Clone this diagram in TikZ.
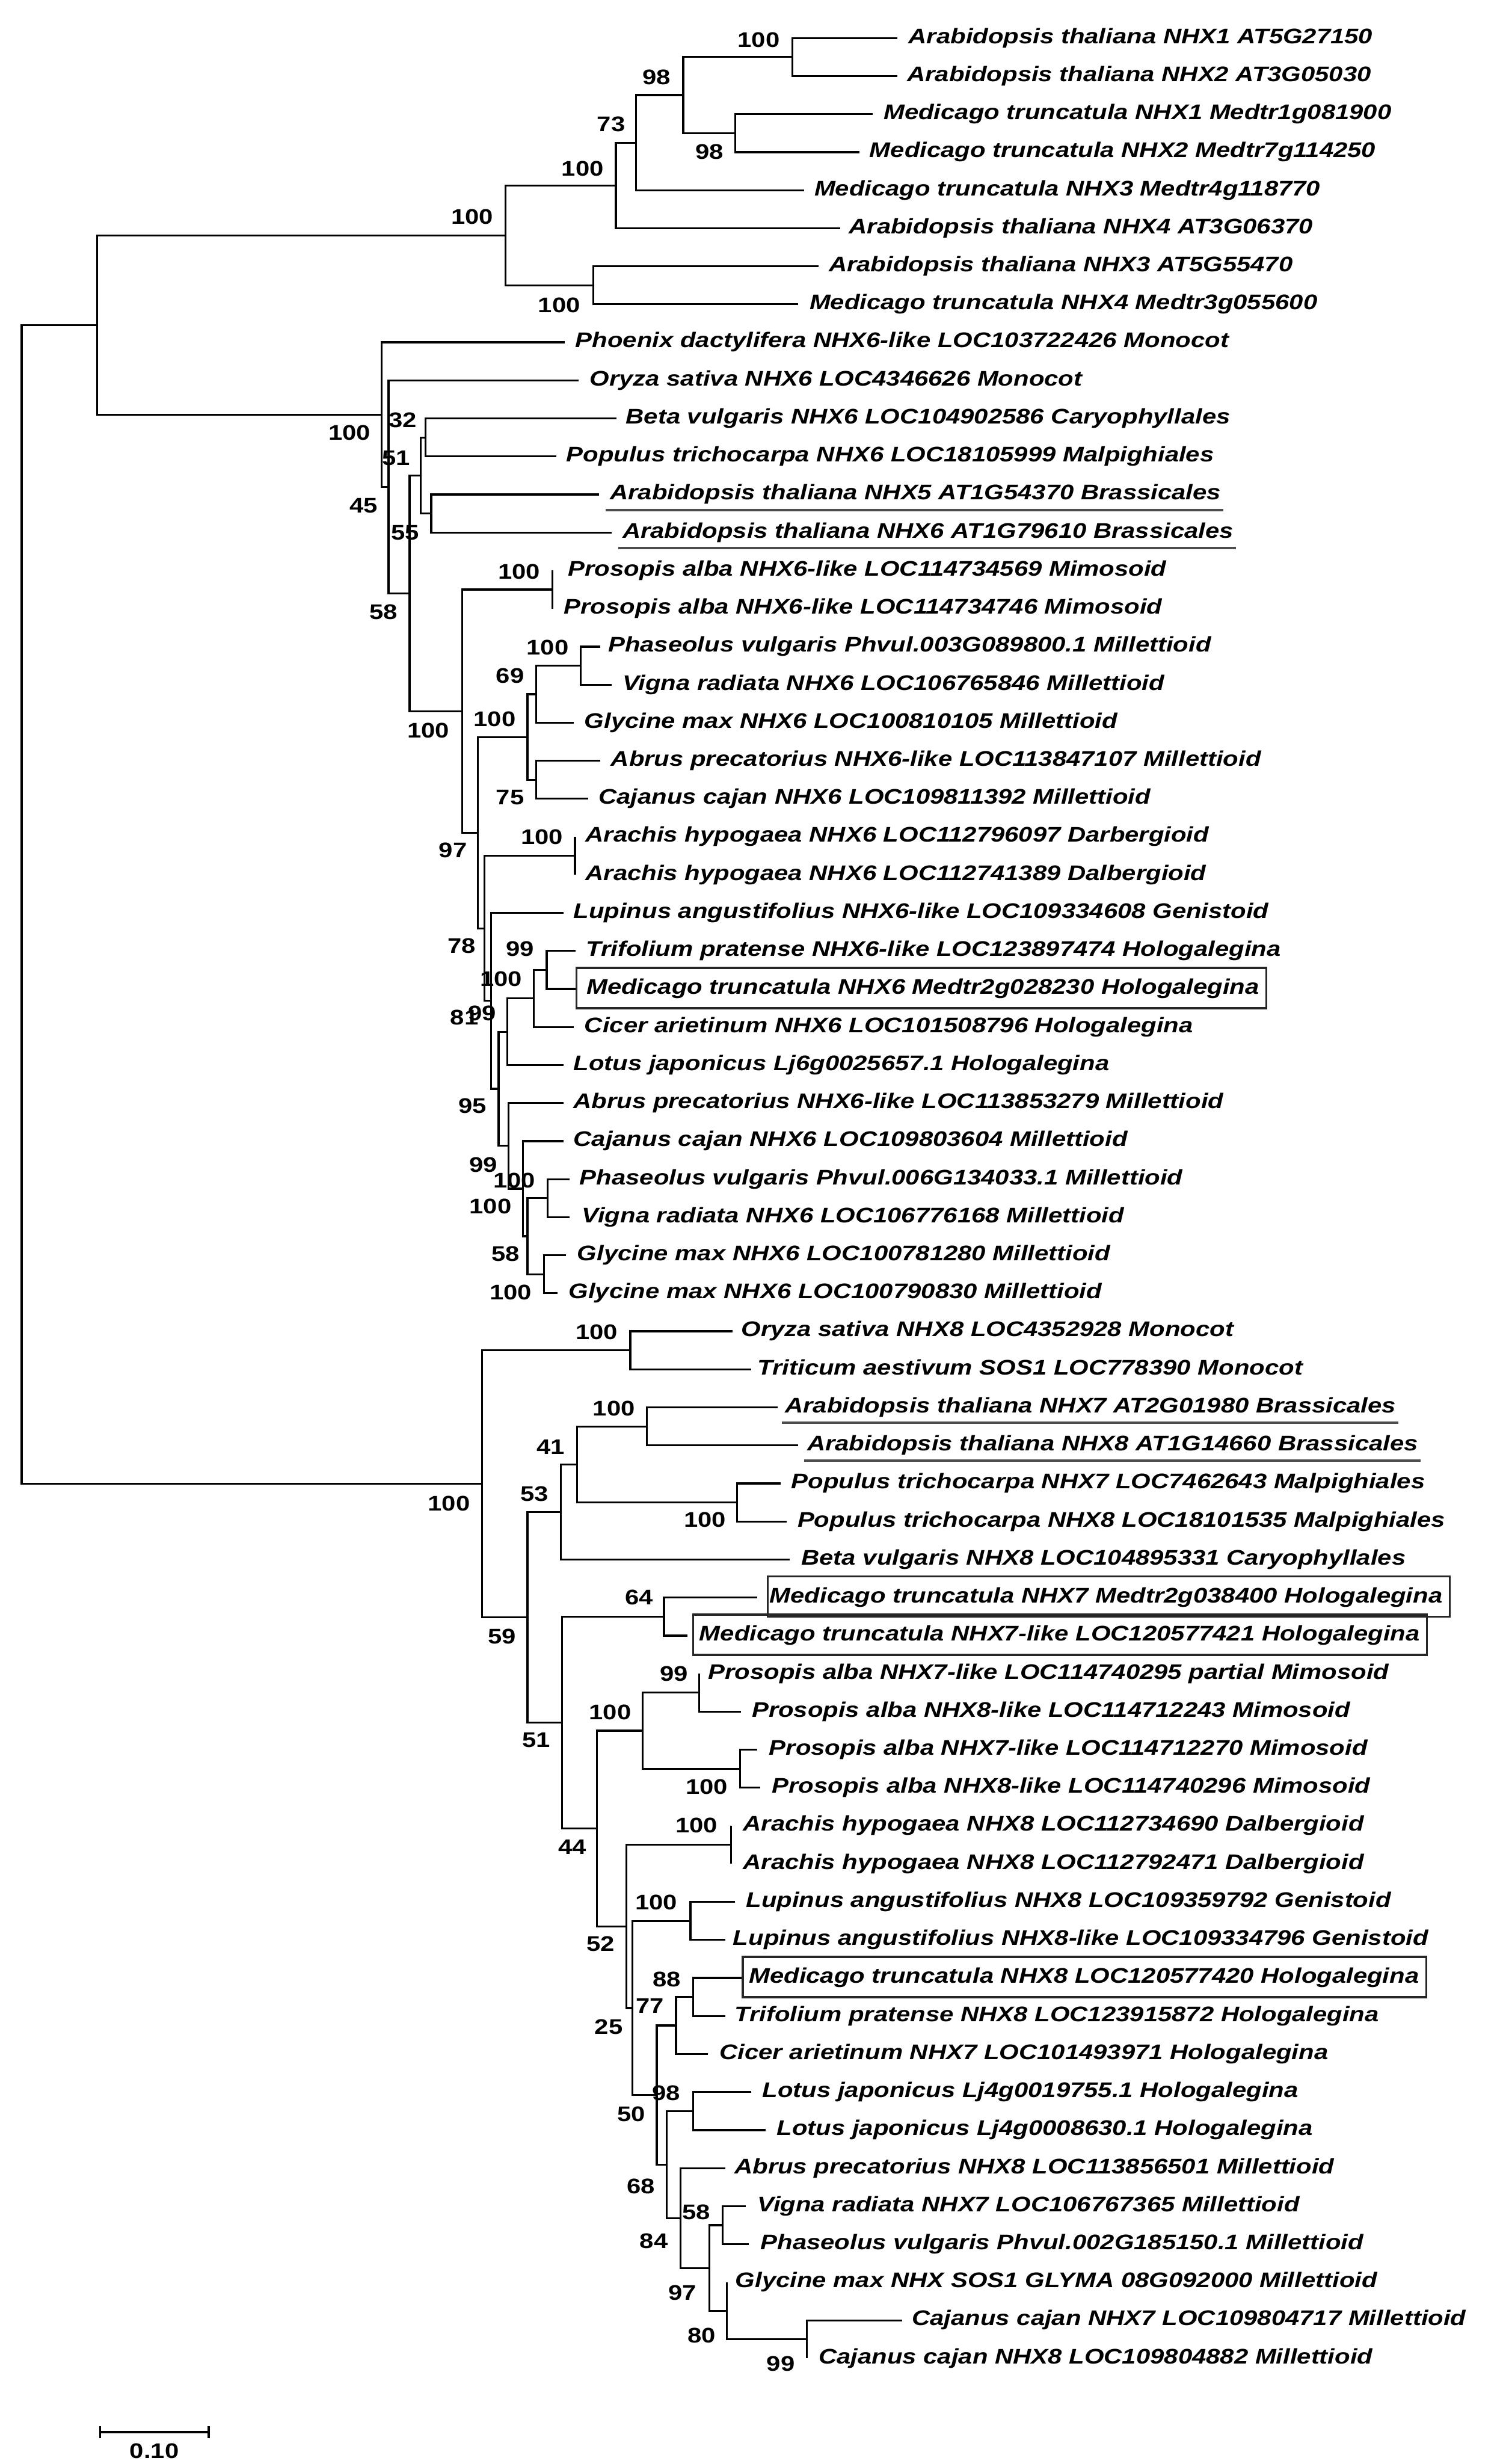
\documentclass[tikz,border=0pt]{standalone}
\usepackage{fontspec}
\setmainfont{Liberation Sans}[FakeStretch=1.19]
\usetikzlibrary{calc}
\tikzset{
  br/.style={line width=0.96pt},
  leaf/.style={font=\bfseries\itshape\fontsize{10.56}{12}\selectfont, inner sep=0pt, anchor=base west, text height=12.96pt, text depth=6.72pt},
  bs/.style={font=\bfseries\fontsize{10.56}{12}\selectfont, inner sep=0pt},
  boxl/.style={line width=1pt, draw=black!85},
  ul/.style={line width=1.2pt, draw=black!70},
}
\newcommand\mkleaf[4]{\coordinate (l#1) at (#2,#1); \node[leaf] (t#1) at (#3,{#1+0.14}) {#4};}
\begin{document}
\begin{tikzpicture}[x=0.24pt, y=-18.984pt]
\useasboundingbox (0,0) rectangle (3125,64.779);
\fill[white] (0,0) rectangle (3125,64.779);
% leaves
\mkleaf{1}{1866}{1889}{Arabidopsis thaliana NHX1 AT5G27150}
\mkleaf{2}{1866}{1886}{Arabidopsis thaliana NHX2 AT3G05030}
\mkleaf{3}{1815}{1837}{Medicago truncatula NHX1 Medtr1g081900}
\mkleaf{4}{1787}{1808}{Medicago truncatula NHX2 Medtr7g114250}
\mkleaf{5}{1672}{1693}{Medicago truncatula NHX3 Medtr4g118770}
\mkleaf{6}{1748}{1765}{Arabidopsis thaliana NHX4 AT3G06370}
\mkleaf{7}{1702}{1723}{Arabidopsis thaliana NHX3 AT5G55470}
\mkleaf{8}{1660}{1683}{Medicago truncatula NHX4 Medtr3g055600}
\mkleaf{9}{1175}{1196}{Phoenix dactylifera NHX6-like LOC103722426 Monocot}
\mkleaf{10}{1203}{1226}{Oryza sativa NHX6 LOC4346626 Monocot}
\mkleaf{11}{1282}{1301}{Beta vulgaris NHX6 LOC104902586 Caryophyllales}
\mkleaf{12}{1157}{1177}{Populus trichocarpa NHX6 LOC18105999 Malpighiales}
\mkleaf{13}{1246}{1268}{Arabidopsis thaliana NHX5 AT1G54370 Brassicales}
\mkleaf{14}{1272}{1294}{Arabidopsis thaliana NHX6 AT1G79610 Brassicales}
\mkleaf{15}{1149}{1181}{Prosopis alba NHX6-like LOC114734569 Mimosoid}
\mkleaf{16}{1149}{1172}{Prosopis alba NHX6-like LOC114734746 Mimosoid}
\mkleaf{17}{1248}{1264}{Phaseolus vulgaris Phvul.003G089800.1 Millettioid}
\mkleaf{18}{1272}{1294}{Vigna radiata NHX6 LOC106765846 Millettioid}
\mkleaf{19}{1194}{1215}{Glycine max NHX6 LOC100810105 Millettioid}
\mkleaf{20}{1248}{1270}{Abrus precatorius NHX6-like LOC113847107 Millettioid}
\mkleaf{21}{1224}{1244}{Cajanus cajan NHX6 LOC109811392 Millettioid}
\mkleaf{22}{1196}{1217}{Arachis hypogaea NHX6 LOC112796097 Darbergioid}
\mkleaf{23}{1196}{1217}{Arachis hypogaea NHX6 LOC112741389 Dalbergioid}
\mkleaf{24}{1172}{1192}{Lupinus angustifolius NHX6-like LOC109334608 Genistoid}
\mkleaf{25}{1197}{1218}{Trifolium pratense NHX6-like LOC123897474 Hologalegina}
\mkleaf{26}{1198}{1219}{Medicago truncatula NHX6 Medtr2g028230 Hologalegina}
\mkleaf{27}{1193}{1215}{Cicer arietinum NHX6 LOC101508796 Hologalegina}
\mkleaf{28}{1172}{1192}{Lotus japonicus Lj6g0025657.1 Hologalegina}
\mkleaf{29}{1172}{1192}{Abrus precatorius NHX6-like LOC113853279 Millettioid}
\mkleaf{30}{1172}{1192}{Cajanus cajan NHX6 LOC109803604 Millettioid}
\mkleaf{31}{1185}{1205}{Phaseolus vulgaris Phvul.006G134033.1 Millettioid}
\mkleaf{32}{1185}{1210}{Vigna radiata NHX6 LOC106776168 Millettioid}
\mkleaf{33}{1177}{1200}{Glycine max NHX6 LOC100781280 Millettioid}
\mkleaf{34}{1159}{1182}{Glycine max NHX6 LOC100790830 Millettioid}
\mkleaf{35}{1524}{1541}{Oryza sativa NHX8 LOC4352928 Monocot}
\mkleaf{36}{1563}{1575}{Triticum aestivum SOS1 LOC778390 Monocot}
\mkleaf{37}{1618}{1632}{Arabidopsis thaliana NHX7 AT2G01980 Brassicales}
\mkleaf{38}{1660}{1678}{Arabidopsis thaliana NHX8 AT1G14660 Brassicales}
\mkleaf{39}{1624}{1645}{Populus trichocarpa NHX7 LOC7462643 Malpighiales}
\mkleaf{40}{1636}{1658}{Populus trichocarpa NHX8 LOC18101535 Malpighiales}
\mkleaf{41}{1642}{1666}{Beta vulgaris NHX8 LOC104895331 Caryophyllales}
\mkleaf{42}{1575}{1600}{Medicago truncatula NHX7 Medtr2g038400 Hologalegina}
\mkleaf{43}{1430}{1454}{Medicago truncatula NHX7-like LOC120577421 Hologalegina}
\mkleaf{44}{1454}{1472}{Prosopis alba NHX7-like LOC114740295 partial Mimosoid}
\mkleaf{45}{1541}{1563}{Prosopis alba NHX8-like LOC114712243 Mimosoid}
\mkleaf{46}{1575}{1599}{Prosopis alba NHX7-like LOC114712270 Mimosoid}
\mkleaf{47}{1581}{1605}{Prosopis alba NHX8-like LOC114740296 Mimosoid}
\mkleaf{48}{1521}{1545}{Arachis hypogaea NHX8 LOC112734690 Dalbergioid}
\mkleaf{49}{1521}{1545}{Arachis hypogaea NHX8 LOC112792471 Dalbergioid}
\mkleaf{50}{1529}{1551}{Lupinus angustifolius NHX8 LOC109359792 Genistoid}
\mkleaf{51}{1509}{1524}{Lupinus angustifolius NHX8-like LOC109334796 Genistoid}
\mkleaf{52}{1545}{1557}{Medicago truncatula NHX8 LOC120577420 Hologalegina}
\mkleaf{53}{1509}{1527}{Trifolium pratense NHX8 LOC123915872 Hologalegina}
\mkleaf{54}{1472}{1496}{Cicer arietinum NHX7 LOC101493971 Hologalegina}
\mkleaf{55}{1563}{1585}{Lotus japonicus Lj4g0019755.1 Hologalegina}
\mkleaf{56}{1593}{1615}{Lotus japonicus Lj4g0008630.1 Hologalegina}
\mkleaf{57}{1509}{1527}{Abrus precatorius NHX8 LOC113856501 Millettioid}
\mkleaf{58}{1551}{1575}{Vigna radiata NHX7 LOC106767365 Millettioid}
\mkleaf{59}{1557}{1581}{Phaseolus vulgaris Phvul.002G185150.1 Millettioid}
\mkleaf{60}{1512}{1529}{Glycine max NHX SOS1 GLYMA 08G092000 Millettioid}
\mkleaf{61}{1876}{1896}{Cajanus cajan NHX7 LOC109804717 Millettioid}
\mkleaf{62}{1678}{1702}{Cajanus cajan NHX8 LOC109804882 Millettioid}
% internal nodes
\coordinate (G) at (1648,1.5);
\coordinate (H) at (1529,3.5);
\coordinate (F) at (1421,2.5);
\coordinate (E) at (1323,3.75);
\coordinate (D) at (1281,4.875);
\coordinate (C) at (1234,7.5);
\coordinate (Bn) at (1051,6.1875);
\coordinate (M) at (885,11.5);
\coordinate (N) at (897,13.5);
\coordinate (L) at (875,12.5);
\coordinate (P) at (1149,15.5);
\coordinate (T) at (1208,17.5);
\coordinate (S) at (1115,18.25);
\coordinate (U) at (1115,20.5);
\coordinate (R) at (1097,19.375);
\coordinate (W) at (1196,22.5);
\coordinate (Q1) at (1137,25.5);
\coordinate (Y4) at (1110,26.25);
\coordinate (Y3) at (1055,27.125);
\coordinate (Y8) at (1139,31.5);
\coordinate (Y9) at (1131,33.5);
\coordinate (Y7) at (1097,32.5);
\coordinate (Y6) at (1088,31.25);
\coordinate (Y5) at (1058,30.125);
\coordinate (Y2) at (1037,28.625);
\coordinate (Y1) at (1021,26.3125);
\coordinate (X) at (1008,24.40625);
\coordinate (V) at (994,21.890625);
\coordinate (O) at (961,18.6953);
\coordinate (K) at (852,15.5977);
\coordinate (J) at (808,12.7988);
\coordinate (I) at (794,10.8994);
\coordinate (A) at (202,8.5435);
\coordinate (AA) at (1311,35.5);
\coordinate (AE) at (1345,37.5);
\coordinate (AF) at (1533,39.5);
\coordinate (AD) at (1200,38.5);
\coordinate (AC) at (1166,39.75);
\coordinate (AH) at (1381,42.5);
\coordinate (AK) at (1454,44.5);
\coordinate (AL) at (1539,46.5);
\coordinate (AJ) at (1337,45.5);
\coordinate (AN) at (1521,48.5);
\coordinate (AP) at (1436,50.5);
\coordinate (AV) at (1442,52.5);
\coordinate (AT) at (1406,53.25);
\coordinate (AW) at (1442,55.5);
\coordinate (AZ) at (1503,58.5);
\coordinate (BB) at (1678,61.5);
\coordinate (BA) at (1512,60.75);
\coordinate (AY) at (1475,59.625);
\coordinate (AX) at (1415,58.3125);
\coordinate (AU) at (1387,56.90625);
\coordinate (AS) at (1366,55.078);
\coordinate (AO) at (1315,52.789);
\coordinate (AM) at (1303,50.645);
\coordinate (AI) at (1242,48.072);
\coordinate (AG) at (1169,45.286);
\coordinate (AB) at (1097,42.518);
\coordinate (Z) at (1003,39.009);
\coordinate (root) at (45,23.776);
% branches
\begin{scope}[br]
\draw (l1) -| (G) |- (l2);
\draw (l3) -| (H) |- (l4);
\draw (G) -| (F) |- (H);
\draw (F) -| (E) |- (l5);
\draw (E) -| (D) |- (l6);
\draw (l7) -| (C) |- (l8);
\draw (D) -| (Bn) |- (C);
\draw (Bn) -| (A) |- (I);
\draw (l9) -| (I) |- (J);
\draw (l10) -| (J) |- (K);
\draw (L) -| (K) |- (O);
\draw (M) -| (L) |- (N);
\draw (l11) -| (M) |- (l12);
\draw (l13) -| (N) |- (l14);
\draw (P) -| (O) |- (V);
\draw (l15) -| (P) |- (l16);
\draw (R) -| (V) |- (X);
\draw (S) -| (R) |- (U);
\draw (T) -| (S) |- (l19);
\draw (l17) -| (T) |- (l18);
\draw (l20) -| (U) |- (l21);
\draw (W) -| (X) |- (Y1);
\draw (l22) -| (W) |- (l23);
\draw (l24) -| (Y1) |- (Y2);
\draw (Y3) -| (Y2) |- (Y5);
\draw (Y4) -| (Y3) |- (l28);
\draw (Q1) -| (Y4) |- (l27);
\draw (l25) -| (Q1) |- (l26);
\draw (l29) -| (Y5) |- (Y6);
\draw (l30) -| (Y6) |- (Y7);
\draw (Y8) -| (Y7) |- (Y9);
\draw (l31) -| (Y8) |- (l32);
\draw (l33) -| (Y9) |- (l34);
\draw (A) -| (root) |- (Z);
\draw (AA) -| (Z) |- (AB);
\draw (l35) -| (AA) |- (l36);
\draw (AC) -| (AB) |- (AG);
\draw (AD) -| (AC) |- (l41);
\draw (AE) -| (AD) |- (AF);
\draw (l37) -| (AE) |- (l38);
\draw (l39) -| (AF) |- (l40);
\draw (AH) -| (AG) |- (AI);
\draw (l42) -| (AH) |- (l43);
\draw (AJ) -| (AI) |- (AM);
\draw (AK) -| (AJ) |- (AL);
\draw (l44) -| (AK) |- (l45);
\draw (l46) -| (AL) |- (l47);
\draw (AN) -| (AM) |- (AO);
\draw (l48) -| (AN) |- (l49);
\draw (AP) -| (AO) |- (AS);
\draw (l50) -| (AP) |- (l51);
\draw (AT) -| (AS) |- (AU);
\draw (AV) -| (AT) |- (l54);
\draw (l52) -| (AV) |- (l53);
\draw (AW) -| (AU) |- (AX);
\draw (l55) -| (AW) |- (l56);
\draw (l57) -| (AX) |- (AY);
\draw (AZ) -| (AY) |- (BA);
\draw (l58) -| (AZ) |- (l59);
\draw (l60) -| (BA) |- (BB);
\draw (l61) -| (BB) |- (l62);
\end{scope}
% underlines and boxes
\draw[ul] ($(t13.south west)+(-8,-0.1)$) -- ($(t13.south east)+(4,-0.1)$);
\draw[ul] ($(t14.south west)+(-8,-0.1)$) -- ($(t14.south east)+(4,-0.1)$);
\draw[ul] ($(t37.south west)+(-6,-0.1)$) -- ($(t37.south east)+(4,-0.1)$);
\draw[ul] ($(t38.south west)+(-6,-0.1)$) -- ($(t38.south east)+(4,-0.1)$);
\draw[boxl] ($(t26.north west)+(-20,0)$) rectangle ($(t26.south east)+(14,0)$);
\draw[boxl] ($(t42.north west)+(-3,0)$) rectangle ($(t42.south east)+(14,0)$);
\draw[boxl] ($(t43.north west)+(-12,0)$) rectangle ($(t43.south east)+(14,0)$);
\draw[boxl] ($(t52.north west)+(-12,0)$) rectangle ($(t52.south east)+(14,0)$);
% bootstrap values
\node[bs] (bG) at (1578,1.05) {100};
\node[bs] (bF) at (1366,2.03) {98};
\node[bs] (bE) at (1271,3.27) {73};
\node[bs] (bH) at (1476,3.99) {98};
\node[bs] (bD) at (1212,4.43) {100};
\node[bs] (bBn) at (982,5.70) {100};
\node[bs] (bC) at (1163,8.02) {100};
\node[bs] (bI) at (727,11.37) {100};
\node[bs] (bM) at (838,11.04) {32};
\node[bs] (bL) at (824,12.05) {51};
\node[bs] (bJ) at (756,13.30) {45};
\node[bs] (bN) at (843,14.01) {55};
\node[bs] (bK) at (798,16.09) {58};
\node[bs] (bP) at (1080,15.03) {100};
\node[bs] (bT) at (1139,17.03) {100};
\node[bs] (bS) at (1061,17.77) {69};
\node[bs] (bR) at (1029,18.91) {100};
\node[bs] (bO) at (891,19.20) {100};
\node[bs] (bU) at (1061,20.96) {75};
\node[bs] (bW) at (1127,22.0) {100};
\node[bs] (bV) at (942,22.36) {97};
\node[bs] (bX) at (960,24.87) {78};
\node[bs] (bQ1) at (1082,24.95) {99};
\node[bs] (bY4) at (1042,25.73) {100};
\node[bs] (bY1) at (966,26.75) {81};
\node[bs] (bY3) at (1003,26.64) {99};
\node[bs] (bY2) at (983,29.07) {95};
\node[bs] (bY5) at (1005,30.62) {99};
\node[bs] (bY8) at (1070,31.04) {100};
\node[bs] (bY6) at (1020,31.71) {100};
\node[bs] (bY7) at (1052,32.96) {58};
\node[bs] (bY9) at (1062,33.97) {100};
\node[bs] (bAA) at (1241,35.02) {100};
\node[bs] (bAE) at (1277,37.03) {100};
\node[bs] (bAD) at (1145,38.04) {41};
\node[bs] (bAC) at (1112,39.28) {53};
\node[bs] (bZ) at (934,39.53) {100};
\node[bs] (bAF) at (1466,39.96) {100};
\node[bs] (bAH) at (1329,42.0) {64};
\node[bs] (bAB) at (1044,43.03) {59};
\node[bs] (bAK) at (1402,44.0) {99};
\node[bs] (bAJ) at (1269,45.02) {100};
\node[bs] (bAG) at (1115,45.74) {51};
\node[bs] (bAL) at (1470,46.98) {100};
\node[bs] (bAN) at (1449,47.99) {100};
\node[bs] (bAI) at (1190,48.56) {44};
\node[bs] (bAP) at (1365,50.01) {100};
\node[bs] (bAM) at (1249,51.11) {52};
\node[bs] (bAV) at (1387,52.04) {88};
\node[bs] (bAT) at (1352,52.74) {77};
\node[bs] (bAO) at (1266,53.29) {25};
\node[bs] (bAW) at (1386,55.03) {98};
\node[bs] (bAS) at (1313,55.58) {50};
\node[bs] (bAU) at (1333,57.47) {68};
\node[bs] (bAZ) at (1448,58.15) {58};
\node[bs] (bAX) at (1360,58.91) {84};
\node[bs] (bAY) at (1419,60.27) {97};
\node[bs] (bBA) at (1459,61.40) {80};
\node[bs] (bBB) at (1624,62.15) {99};
% scale bar
\coordinate (sb1) at (208,63.94);
\coordinate (sb2) at (434,63.94);
\draw[line width=1.5pt] (sb1) -- (sb2);
\draw[line width=1pt] ($(sb1)+(0,-0.16)$) -- ($(sb1)+(0,0.16)$);
\draw[line width=1pt] ($(sb2)+(0,-0.16)$) -- ($(sb2)+(0,0.16)$);
\node[bs] (sbl) at (321,64.44) {0.10};
\end{tikzpicture}
\end{document}
